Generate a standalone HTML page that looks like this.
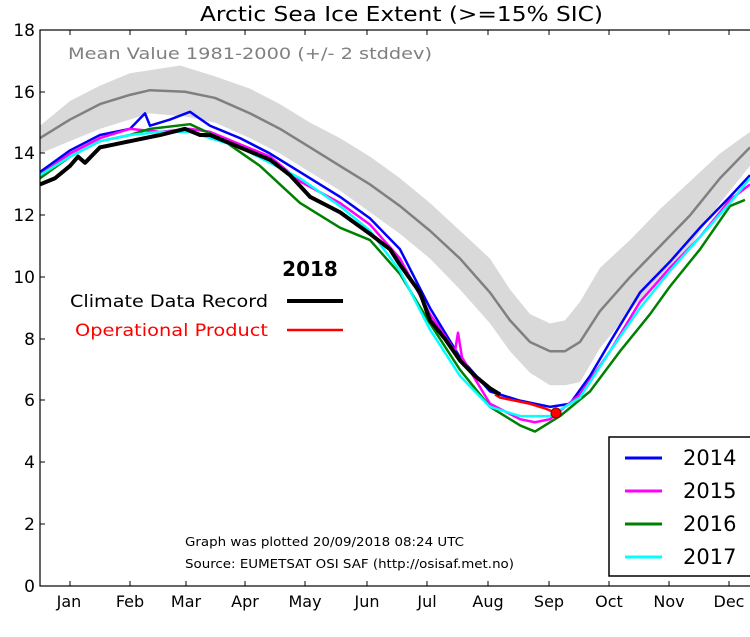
<!DOCTYPE html>
<html><head><meta charset="utf-8"><style>
body{margin:0;background:#fff}
svg{display:block;font-family:"DejaVu Sans","Liberation Sans",sans-serif}
</style></head><body>
<svg width="750" height="637" viewBox="0 0 750 637">
<g transform="translate(0,586) scale(1,-30.89)">
<polygon fill="#d9d9d9" points="40,14.9 70,15.7 100,16.2 130,16.6 160,16.75 180,16.85 215,16.5 250,16.1 280,15.6 310,15.0 340,14.5 370,13.9 400,13.2 430,12.4 460,11.5 490,10.6 510,9.6 530,8.8 550,8.5 565,8.6 580,9.2 600,10.3 630,11.2 660,12.2 690,13.1 720,14.0 750,14.7 750,13.6 720,12.4 690,11.0 660,10.0 630,8.9 600,7.7 580,6.6 565,6.5 550,6.5 530,6.9 510,7.6 490,8.5 460,9.6 430,10.6 400,11.4 370,12.1 340,12.8 310,13.4 280,14.0 250,14.5 215,15.0 185,15.2 150,15.3 130,15.1 100,14.8 70,14.4 40,14.0"/>
<g fill="none" stroke-linejoin="round">
<polyline stroke="#808080" stroke-width="2.5" vector-effect="non-scaling-stroke" points="40,14.5 70,15.1 100,15.6 130,15.9 150,16.05 185,16.0 215,15.8 250,15.3 280,14.8 310,14.2 340,13.6 370,13.0 400,12.3 430,11.5 460,10.6 490,9.5 510,8.6 530,7.9 550,7.6 565,7.6 580,7.9 600,8.9 630,10.0 660,11.0 690,12.0 720,13.2 750,14.2"/>
<polyline stroke="#0000ff" stroke-width="2.5" vector-effect="non-scaling-stroke" points="40,13.4 70,14.1 100,14.6 130,14.8 145,15.3 150,14.9 170,15.1 190,15.35 210,14.9 240,14.5 270,14.0 300,13.4 340,12.6 370,11.9 400,10.9 430,9.0 460,7.4 490,6.3 520,6.0 550,5.8 570,5.9 590,6.8 610,7.9 640,9.5 670,10.5 700,11.6 730,12.6 750,13.3"/>
<polyline stroke="#ff00ff" stroke-width="2.5" vector-effect="non-scaling-stroke" points="40,13.3 70,14.0 100,14.5 130,14.8 160,14.7 190,14.8 210,14.7 240,14.3 270,13.9 300,13.1 340,12.4 370,11.7 400,10.6 430,8.8 455,7.6 458,8.2 462,7.4 490,5.9 520,5.4 535,5.3 550,5.4 580,6.2 610,7.6 640,9.2 670,10.3 700,11.3 730,12.5 750,13.0"/>
<polyline stroke="#008000" stroke-width="2.5" vector-effect="non-scaling-stroke" points="40,13.2 70,13.9 100,14.4 130,14.6 150,14.8 190,14.95 220,14.5 260,13.6 300,12.4 340,11.6 370,11.2 400,10.1 430,8.5 460,7.0 490,5.8 520,5.2 535,5.0 560,5.5 590,6.3 620,7.6 650,8.8 670,9.7 700,10.9 730,12.3 745,12.5"/>
<polyline stroke="#00ffff" stroke-width="2.5" vector-effect="non-scaling-stroke" points="40,13.3 70,13.9 100,14.4 130,14.6 160,14.7 190,14.7 240,14.2 300,13.2 340,12.3 370,11.5 400,10.2 430,8.3 460,6.8 490,5.8 520,5.5 550,5.5 580,6.1 610,7.6 640,9.0 670,10.2 700,11.3 730,12.4 750,13.2"/>
<polyline stroke="#ff0000" stroke-width="2.5" vector-effect="non-scaling-stroke" points="495,6.2 500,6.1 515,6.0 530,5.9 545,5.75 556,5.6"/>
<polyline stroke="#000000" stroke-width="4" vector-effect="non-scaling-stroke" points="40,13.0 55,13.2 70,13.6 78,13.9 85,13.7 100,14.2 115,14.3 130,14.4 160,14.6 185,14.8 200,14.6 210,14.6 240,14.2 270,13.8 290,13.3 310,12.6 340,12.1 370,11.4 390,10.9 400,10.4 420,9.5 430,8.6 445,8.0 460,7.3 475,6.8 490,6.4 500,6.2"/>
</g></g>
<circle cx="556" cy="413" r="5" fill="#ff0000" stroke="#800000" stroke-width="1"/>
<rect x="40" y="30" width="715" height="556" fill="none" stroke="#000" stroke-width="1.2"/>
<g stroke="#000" stroke-width="1">
<path d="M40,524h5M40,462h5M40,400h5M40,339h5M40,277h5M40,215h5M40,153h5M40,92h5"/>
<path d="M70,586v-5M130,586v-5M186,586v-5M245,586v-5M305,586v-5M367,586v-5M427,586v-5M488,586v-5M549,586v-5M609,586v-5M669,586v-5M729,586v-5M70,30v5M130,30v5M186,30v5M245,30v5M305,30v5M367,30v5M427,30v5M488,30v5M549,30v5M609,30v5M669,30v5M729,30v5"/>
</g>
<g font-size="17" text-anchor="end">
<text x="35" y="592">0</text><text x="35" y="530">2</text><text x="35" y="468">4</text><text x="35" y="406">6</text><text x="35" y="345">8</text><text x="35" y="283">10</text><text x="35" y="221">12</text><text x="35" y="159">14</text><text x="35" y="98">16</text><text x="35" y="36">18</text>
</g>
<g font-size="16" text-anchor="middle">
<text x="69" y="607">Jan</text><text x="130" y="607">Feb</text><text x="186" y="607">Mar</text><text x="245" y="607">Apr</text><text x="305" y="607">May</text><text x="367" y="607">Jun</text><text x="427" y="607">Jul</text><text x="488" y="607">Aug</text><text x="549" y="607">Sep</text><text x="609" y="607">Oct</text><text x="669" y="607">Nov</text><text x="729" y="607">Dec</text>
</g>
<text x="200" y="21" font-size="20" textLength="403" lengthAdjust="spacingAndGlyphs">Arctic Sea Ice Extent (&gt;=15% SIC)</text>
<text x="68" y="59" font-size="16" fill="#808080" textLength="364" lengthAdjust="spacingAndGlyphs">Mean Value 1981-2000 (+/- 2 stddev)</text>
<text x="310" y="276" font-size="20" font-weight="bold" text-anchor="middle">2018</text>
<text x="70" y="307" font-size="17" textLength="198" lengthAdjust="spacingAndGlyphs">Climate Data Record</text>
<line x1="287" y1="301" x2="343" y2="301" stroke="#000" stroke-width="4"/>
<text x="75" y="336" font-size="17" fill="#ff0000" textLength="193" lengthAdjust="spacingAndGlyphs">Operational Product</text>
<line x1="287" y1="330" x2="343" y2="330" stroke="#ff0000" stroke-width="2.5"/>
<text x="185" y="546" font-size="12" textLength="279" lengthAdjust="spacingAndGlyphs">Graph was plotted 20/09/2018 08:24 UTC</text>
<text x="185" y="568" font-size="12" textLength="329" lengthAdjust="spacingAndGlyphs">Source: EUMETSAT OSI SAF (http://osisaf.met.no)</text>
<rect x="609" y="437" width="150" height="139" fill="#fff" stroke="#000" stroke-width="1.5"/>
<g stroke-width="3">
<line x1="625" y1="458" x2="662" y2="458" stroke="#0000ff"/>
<line x1="625" y1="491" x2="662" y2="491" stroke="#ff00ff"/>
<line x1="625" y1="524" x2="662" y2="524" stroke="#008000"/>
<line x1="625" y1="557" x2="662" y2="557" stroke="#00ffff"/>
</g>
<g font-size="21">
<text x="683" y="465">2014</text><text x="683" y="498">2015</text><text x="683" y="531">2016</text><text x="683" y="564">2017</text>
</g>
</svg>
</body></html>
